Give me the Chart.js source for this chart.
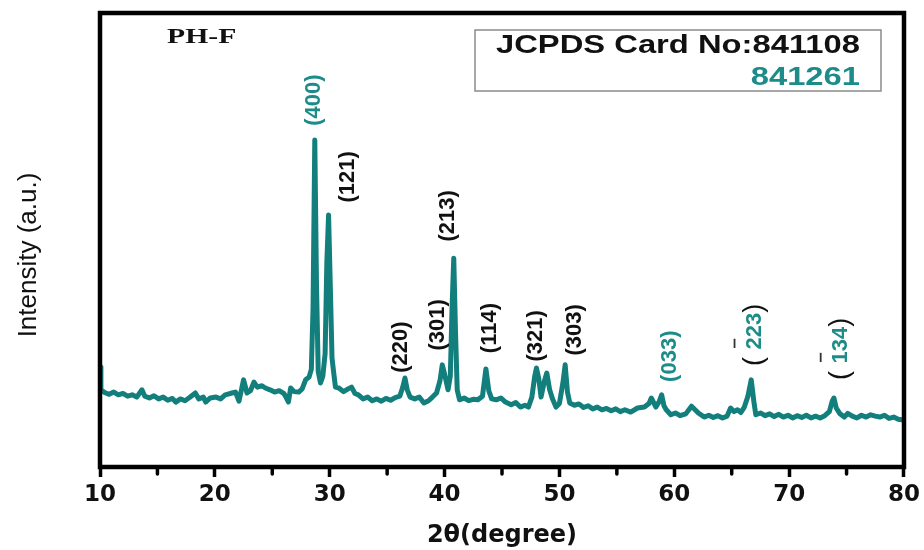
<!DOCTYPE html>
<html><head><meta charset="utf-8">
<script src="https://cdn.jsdelivr.net/npm/chart.js@4.4.1/dist/chart.umd.min.js"></script>
<style>html,body{margin:0;padding:0;background:#fff}</style>
</head><body>
<canvas id="c" width="924" height="550"></canvas>
<script>
// ---- data ----
const twoTheta = [10.00,10.08,10.4,10.8,11.2,11.6,12.0,12.4,12.8,13.2,13.65,13.9,14.3,14.7,15.1,15.5,15.9,16.3,16.6,17.0,17.4,17.8,18.3,18.6,19.0,19.2,19.6,20.1,20.5,20.9,21.5,21.8,22.1,22.5,22.8,23.1,23.4,23.7,24.1,24.4,24.8,25.2,25.6,26.0,26.2,26.4,26.6,26.9,27.3,27.6,27.9,28.2,28.4,28.55,28.7,28.85,29.0,29.2,29.4,29.6,29.75,29.9,30.05,30.2,30.35,30.5,30.8,31.2,31.6,31.9,32.2,32.5,32.9,33.3,33.7,34.1,34.5,34.9,35.3,35.7,36.1,36.35,36.55,36.75,37.0,37.4,37.8,38.2,38.6,38.9,39.3,39.6,39.8,40.0,40.3,40.5,40.65,40.8,40.95,41.1,41.3,41.7,42.1,42.5,42.9,43.3,43.6,43.85,44.1,44.5,44.9,45.3,45.8,46.2,46.6,47.0,47.3,47.6,47.85,48.0,48.2,48.4,48.7,48.9,49.15,49.4,49.7,50.0,50.3,50.5,50.7,50.9,51.3,51.7,52.1,52.5,52.9,53.3,53.7,54.1,54.5,54.9,55.3,55.7,56.2,56.8,57.4,57.8,58.0,58.4,58.7,58.9,59.1,59.3,59.7,60.1,60.5,61.0,61.5,62.1,62.6,63.0,63.4,63.8,64.2,64.6,64.9,65.2,65.5,65.8,66.1,66.4,66.7,66.95,67.1,67.5,67.9,68.3,68.7,69.1,69.5,69.9,70.3,70.7,71.1,71.5,71.9,72.3,72.7,73.1,73.5,73.75,73.9,74.1,74.4,74.8,75.1,75.5,75.9,76.3,76.7,77.1,77.5,77.9,78.3,78.7,79.1,79.5,79.8,80.0];
const intensity = [22.0,17.0,16.4,16.0,16.5,15.9,16.2,15.6,15.9,15.4,17.0,15.6,15.2,15.7,15.0,15.4,14.7,15.1,14.3,15.0,14.6,15.3,16.3,15.0,15.4,14.3,15.2,15.4,15.0,15.9,16.3,16.5,14.5,19.2,16.3,16.8,18.7,17.6,17.9,17.4,17.0,16.5,16.8,16.2,15.4,14.3,17.4,16.6,16.5,17.2,19.2,19.8,21.5,35.0,72.0,40.0,21.0,18.5,20.0,25.0,45.0,55.5,40.0,24.0,20.7,17.6,17.4,16.6,17.2,17.6,16.2,15.9,15.0,15.4,14.6,15.0,14.5,15.1,14.7,15.3,15.6,17.5,19.6,17.0,15.4,15.0,15.4,14.1,14.6,15.3,16.3,19.0,22.5,20.5,17.0,20.0,35.0,46.0,30.0,17.0,14.8,15.2,14.6,14.9,14.8,15.6,21.6,16.8,15.0,14.8,15.2,14.3,13.7,14.2,13.2,13.6,13.2,15.4,20.0,21.8,19.5,15.4,19.0,20.7,17.0,15.0,13.2,14.0,18.5,22.5,16.5,14.1,13.6,13.9,13.1,13.5,12.8,13.2,12.6,12.9,12.4,12.8,12.2,12.6,12.1,13.0,13.2,14.0,15.2,13.2,14.5,15.9,13.5,12.6,11.5,11.9,11.3,11.7,13.4,11.9,11.0,11.4,10.9,11.3,10.8,11.2,13.0,12.2,12.6,12.0,13.2,15.5,19.2,14.0,11.5,11.9,11.3,11.7,11.1,11.6,11.0,11.4,10.8,11.3,10.9,11.4,10.8,11.2,10.8,11.3,12.2,14.5,15.2,13.0,11.8,11.0,11.8,11.2,10.8,11.4,11.0,11.5,11.2,11.0,11.4,10.7,11.0,10.5,10.4,10.3];
const xTickValues = [10,20,30,40,50,60,70,80];
const xMinorTicks = [15,25,35,45,55,65,75];
const peakHkl = ['(400)','(121)','(220)','(301)','(213)','(114)','(321)','(303)','(033)','223','134'];
const peakLabelX = [28.5,31.5,36.1,39.3,40.2,43.9,47.9,51.3,59.5,66.9,74.4];
const peakLabelY = [80.8,63.9,26.4,31.3,55.3,30.6,28.9,30.2,24.4,29.1,26.0];
const peakPhase = ['B','A','A','A','A','A','A','A','B','B','B']; // A: 841108, B: 841261
const peakBarred = [false,false,false,false,false,false,false,false,false,true,true];
const sampleName = 'PH-F';
const cardLine1 = 'JCPDS Card No:841108';
const cardLine2 = '841261';
const xTitle = '2θ(degree)';
const yTitle = 'Intensity (a.u.)';

const TEAL = '#137f7d';
const TEAL_TXT = '#1d8c89';

const deco = {
  id: 'deco',
  afterDatasetsDraw(chart) {
    const {ctx, chartArea: a, scales: {x, y}} = chart;
    ctx.save();
    // frame
    ctx.strokeStyle = '#000'; ctx.lineWidth = 4.5;
    ctx.strokeRect(a.left, a.top, a.right - a.left, a.bottom - a.top);
    // minor ticks
    ctx.lineWidth = 3.5; ctx.lineCap = 'round';
    xMinorTicks.forEach(v => {
      const px = x.getPixelForValue(v);
      ctx.beginPath(); ctx.moveTo(px, a.bottom); ctx.lineTo(px, a.bottom + 7); ctx.stroke();
    });
    ctx.lineCap = 'butt';
    // y title
    ctx.save();
    ctx.translate(29, 255); ctx.rotate(-Math.PI / 2);
    ctx.font = '26px "Liberation Sans", Arial, sans-serif';
    ctx.fillStyle = '#111'; ctx.textAlign = 'center'; ctx.textBaseline = 'middle';
    ctx.fillText(yTitle, 0, 0);
    ctx.restore();
    // sample name
    ctx.save();
    ctx.translate(167, 43); ctx.scale(1.35, 1);
    ctx.font = 'bold 22px "Liberation Serif", "Times New Roman", serif';
    ctx.fillStyle = '#111'; ctx.textAlign = 'left'; ctx.textBaseline = 'alphabetic';
    ctx.fillText(sampleName, 0, 0);
    ctx.restore();
    // card box
    ctx.strokeStyle = '#8a8a8a'; ctx.lineWidth = 1.5;
    ctx.strokeRect(475, 30, 406, 61);
    ctx.save();
    ctx.translate(860, 53); ctx.scale(1.31, 1);
    ctx.font = 'bold 25px "Liberation Sans", Arial, sans-serif';
    ctx.textAlign = 'right'; ctx.fillStyle = '#111';
    ctx.fillText(cardLine1, 0, 0);
    ctx.restore();
    ctx.save();
    ctx.translate(860, 85); ctx.scale(1.31, 1);
    ctx.font = 'bold 25px "Liberation Sans", Arial, sans-serif';
    ctx.textAlign = 'right'; ctx.fillStyle = TEAL_TXT;
    ctx.fillText(cardLine2, 0, 0);
    ctx.restore();
    // peak labels
    const f = 'bold 22px "Liberation Sans", Arial, sans-serif';
    const fp = '27px "Liberation Sans", Arial, sans-serif';
    peakHkl.forEach((t, i) => {
      const cx = x.getPixelForValue(peakLabelX[i]);
      const cy = y.getPixelForValue(peakLabelY[i]);
      const col = peakPhase[i] === 'B' ? TEAL_TXT : '#111';
      ctx.save();
      ctx.translate(cx, cy); ctx.rotate(-Math.PI / 2);
      ctx.textBaseline = 'middle'; ctx.textAlign = 'left';
      let parts;
      if (peakBarred[i]) {
        parts = [{t: '( ', c: '#111', f: fp},
                 {t: t, c: col, f: f, bar: true},
                 {t: ')', c: '#111', f: fp}];
      } else {
        parts = [{t: t, c: col, f: f}];
      }
      const w = parts.map(p => { ctx.font = p.f; return ctx.measureText(p.t).width; });
      let xx = -w.reduce((s, v) => s + v, 0) / 2;
      parts.forEach((p, k) => {
        ctx.font = p.f; ctx.fillStyle = p.c;
        ctx.fillText(p.t, xx, 1);
        if (p.bar) {
          const dw = ctx.measureText(p.t[0]).width;
          ctx.strokeStyle = '#333'; ctx.lineWidth = 1.8;
          ctx.beginPath(); ctx.moveTo(xx + 1.5, -19); ctx.lineTo(xx + dw - 1.5, -19); ctx.stroke();
        }
        xx += w[k];
      });
      ctx.restore();
    });
    ctx.restore();
  }
};

new Chart(document.getElementById('c'), {
  type: 'line',
  data: {
    datasets: [{
      data: twoTheta.map((v, i) => ({x: v, y: intensity[i]})),
      borderColor: TEAL,
      borderWidth: 5,
      pointRadius: 0,
      tension: 0,
      fill: false,
      borderJoinStyle: 'round'
    }]
  },
  options: {
    responsive: false,
    animation: false,
    devicePixelRatio: 1,
    layout: {padding: {left: 100, right: 18, top: 13, bottom: 0}},
    plugins: {legend: {display: false}, tooltip: {enabled: false}},
    scales: {
      x: {
        type: 'linear', min: 10, max: 80,
        afterBuildTicks: s => { s.ticks = xTickValues.map(v => ({value: v})); },
        afterFit: s => { s.height = 83; },
        border: {display: false},
        grid: {drawOnChartArea: false, drawTicks: true, tickLength: 10, tickWidth: 3.5, tickColor: '#000'},
        ticks: {autoSkip: false, maxRotation: 0, padding: 4, color: '#111',
                font: {family: '"DejaVu Sans", sans-serif', weight: 'bold', size: 23}},
        title: {display: true, text: xTitle, color: '#111', padding: {top: 0, bottom: 0},
                font: {family: '"DejaVu Sans", sans-serif', weight: 'bold', size: 24}}
      },
      y: {type: 'linear', min: 0, max: 100, display: false}
    }
  },
  plugins: [deco]
});
</script>
</body></html>
